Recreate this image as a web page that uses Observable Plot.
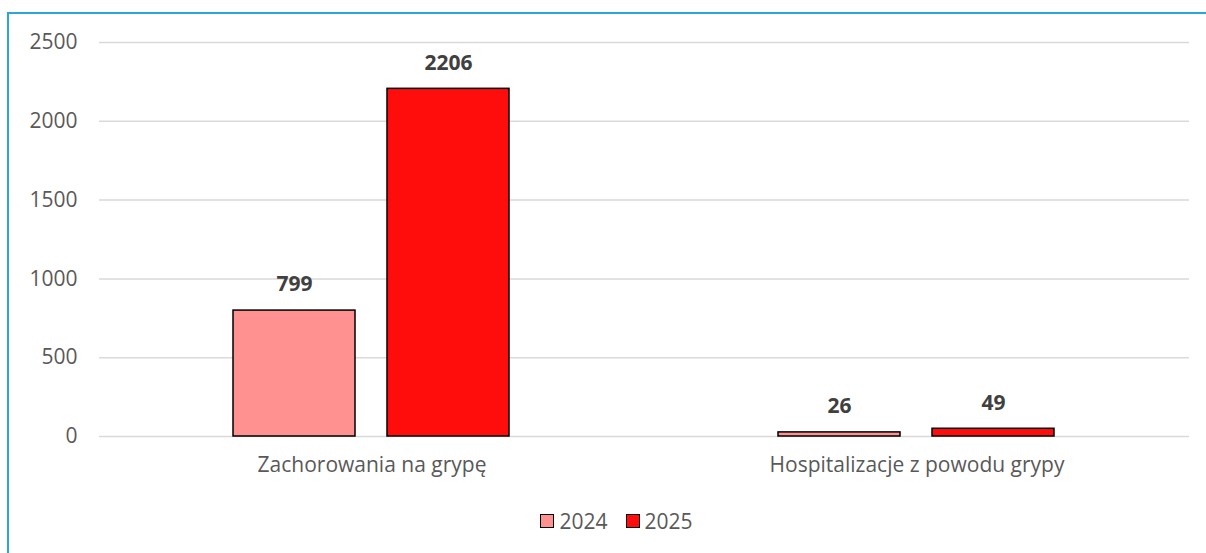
<!DOCTYPE html>
<html><head><meta charset="utf-8">
<script src="https://cdn.jsdelivr.net/npm/d3@7"></script>
<script src="https://cdn.jsdelivr.net/npm/@observablehq/plot@0.6"></script>
<style>
html,body{margin:0;padding:0;background:#fff;overflow:hidden;width:1206px;height:553px;position:relative}
#frame{position:absolute;left:7px;top:12px;width:1300px;height:700px;border:2px solid #2aa5dd;box-sizing:border-box}
#chart{position:absolute;left:0;top:0}
#legend{position:absolute;top:507px;left:0;width:1233px;display:flex;justify-content:center;align-items:center;gap:18px;font-family:"Open Sans",sans-serif;font-size:21px;color:#595959}
.item{display:flex;align-items:center;gap:5px}
.sw{width:12px;height:12px;border:1.5px solid #000}
</style></head>
<body>
<div id="frame"></div>
<div id="chart"></div>
<div id="legend"></div>
<script>
const categories = ["Zachorowania na grypę", "Hospitalizacje z powodu grypy"];
const years = ["2024", "2025"];
const values2024 = [799, 26];
const values2025 = [2206, 49];
const yTicks = [0, 500, 1000, 1500, 2000, 2500];
const colors = ["#ff9191", "#ff0c0c"];

const rows = [];
categories.forEach((c, i) => {
  rows.push({category: c, year: years[0], value: values2024[i]});
  rows.push({category: c, year: years[1], value: values2025[i]});
});

const font = '"Open Sans", sans-serif';
const chart = Plot.plot({
  width: 1206,
  height: 480,
  marginTop: 42,
  marginBottom: 44,
  marginLeft: 98,
  marginRight: 17,
  style: {fontFamily: font, fontSize: "21px", color: "#595959", background: "transparent"},
  fx: {domain: categories, padding: 0, label: null, axis: null},
  x: {domain: years, paddingInner: 0.2065, paddingOuter: 0.863, axis: null},
  y: {domain: [0, 2500], ticks: yTicks, label: null, axis: null},
  color: {domain: years, range: colors},
  marks: [
    Plot.gridY(yTicks, {stroke: "#d9d9d9", strokeOpacity: 1, strokeWidth: 1.5}),
    Plot.axisY(yTicks, {tickSize: 0, tickPadding: 22, tickFormat: d3.format("d"), fontSize: 21, fill: "#595959", label: null}),
    Plot.axisFx({tickSize: 0, tickPadding: 21, fontSize: 21, fill: "#595959", label: null, anchor: "bottom"}),
    Plot.barY(rows, {fx: "category", x: "year", y: "value", fill: "year", stroke: "#000", strokeWidth: 1.5}),
    Plot.text(rows, {fx: "category", x: "year", y: "value", text: d => String(d.value), dy: -26, fontWeight: "bold", fontSize: 21, fill: "#404040"})
  ]
});
document.getElementById("chart").appendChild(chart);

const legend = document.getElementById("legend");
years.forEach((y, i) => {
  const it = document.createElement("div");
  it.className = "item";
  const sw = document.createElement("div");
  sw.className = "sw";
  sw.style.background = colors[i];
  const t = document.createElement("span");
  t.textContent = y;
  it.appendChild(sw); it.appendChild(t);
  legend.appendChild(it);
});
</script>
</body></html>
